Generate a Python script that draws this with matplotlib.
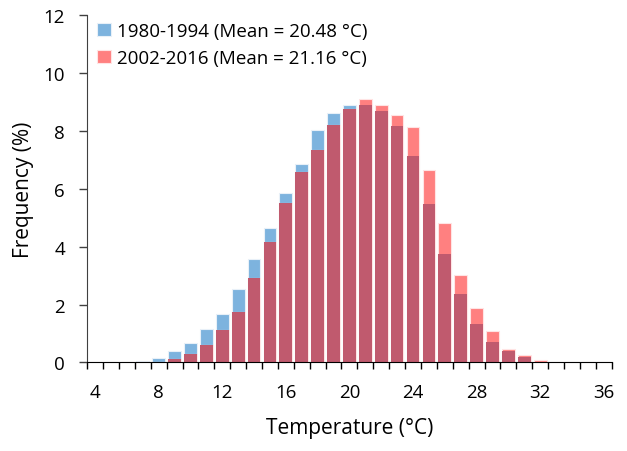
import numpy as np
import matplotlib.pyplot as plt

plt.rcParams['font.family'] = ['Open Sans', 'DejaVu Sans']

# temperature classes (°C)
temps = np.arange(4, 37)
# frequency (%) per 1 °C class
freq_1980_1994 = [0, 0, 0, 0.05, 0.16, 0.38, 0.67, 1.14, 1.66, 2.54, 3.56,
                  4.65, 5.86, 6.85, 8.03, 8.60, 8.90, 8.90, 8.67, 8.18, 7.12,
                  5.48, 3.73, 2.35, 1.31, 0.72, 0.40, 0.18, 0.02, 0, 0, 0, 0]
freq_2002_2016 = [0, 0, 0.02, 0, 0.03, 0.11, 0.29, 0.60, 1.12, 1.75, 2.91,
                  4.15, 5.49, 6.58, 7.33, 8.21, 8.74, 9.09, 8.89, 8.56, 8.13,
                  6.64, 4.81, 3.01, 1.87, 1.10, 0.48, 0.24, 0.07, 0.02, 0.01, 0.01, 0]
labels = ['1980-1994 (Mean = 20.48 °C)', '2002-2016 (Mean = 21.16 °C)']

blue = '#7DB3DE'
red = '#FF8080'
both = '#C05A6E'

fig = plt.figure(figsize=(6.27, 4.52), dpi=100)
ax = fig.add_axes([0.139, 0.196, 0.8366, 0.7686])

w = 0.8
a = np.array(freq_1980_1994)
b = np.array(freq_2002_2016)
ax.bar(temps, a, width=w, color=blue, edgecolor='#E8F0F8', linewidth=0.8, label=labels[0])
ax.bar(temps, b, width=w, color=red, edgecolor='#FFE4E4', linewidth=0.8, label=labels[1])
ax.bar(temps, np.minimum(a, b), width=w, color=both, linewidth=0)

ax.set_xlim(3.5, 36.5)
ax.set_ylim(0, 12)
ax.set_yticks(np.arange(0, 13, 2))
ax.set_xticks(np.arange(4, 37, 4))
ax.set_xticks(np.arange(3.5, 37, 1), minor=True)
ax.tick_params(axis='x', which='major', length=0, pad=15, labelsize=13.5)
ax.tick_params(axis='x', which='minor', length=5, width=1, color='black')
ax.tick_params(axis='y', length=6, width=1, color='#404040', pad=10, labelsize=13.5)

for s in ['top', 'right']:
    ax.spines[s].set_visible(False)
ax.spines['left'].set_color('#404040')
ax.spines['bottom'].set_color('black')

ax.set_xlabel('Temperature (°C)', fontsize=15, labelpad=11)
ax.set_ylabel('Frequency (%)', fontsize=15, labelpad=7)

ax.legend(loc='upper left', bbox_to_anchor=(-0.006, 1.018), frameon=False, fontsize=13.5,
          handlelength=0.72, handleheight=0.72, handletextpad=0.35, labelspacing=0.5,
          borderaxespad=0.3)

fig.savefig('out.png', dpi=100)
